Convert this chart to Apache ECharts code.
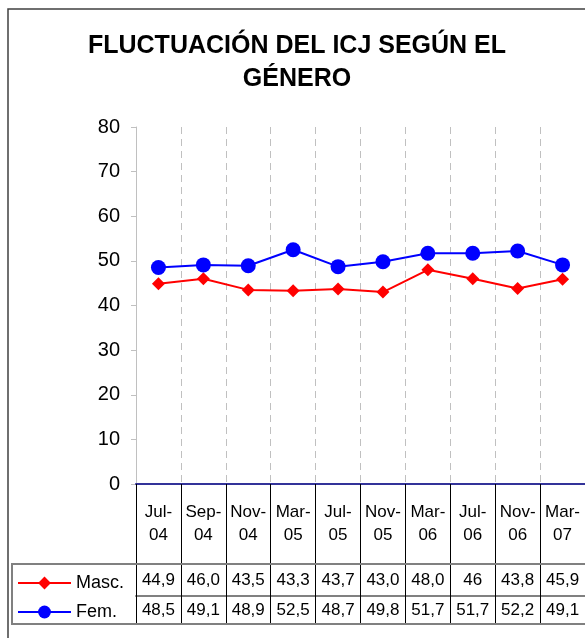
<!DOCTYPE html>
<html>
<head>
<meta charset="utf-8">
<script src="https://cdn.jsdelivr.net/npm/echarts@6/dist/echarts.min.js"></script>
<style>
html,body{margin:0;padding:0;background:#fff;}
#chart{width:585px;height:638px;}
</style>
</head>
<body>
<div id="chart"></div>
<script>
var categories = ["Jul-04","Sep-04","Nov-04","Mar-05","Jul-05","Nov-05","Mar-06","Jul-06","Nov-06","Mar-07"];
var masc = [44.9, 46.0, 43.5, 43.3, 43.7, 43.0, 48.0, 46, 43.8, 45.9];
var fem  = [48.5, 49.1, 48.9, 52.5, 48.7, 49.8, 51.7, 51.7, 52.2, 49.1];
var mascTable = ["44,9","46,0","43,5","43,3","43,7","43,0","48,0","46","43,8","45,9"];
var femTable  = ["48,5","49,1","48,9","52,5","48,7","49,8","51,7","51,7","52,2","49,1"];
var yTicks = [0, 10, 20, 30, 40, 50, 60, 70, 80];

var FONT = "'Liberation Sans', Arial, sans-serif";
var chart = echarts.init(document.getElementById('chart'), null, {renderer: 'canvas'});

function tableAxis(offset, tickLen, labels, margin) {
  return {
    type: 'category', data: categories, position: 'bottom', offset: offset,
    boundaryGap: true,
    axisLine: {show: true, lineStyle: {color: '#808080', width: 2}},
    axisTick: {show: true, interval: 0, length: tickLen, lineStyle: {color: '#000', width: 1}},
    axisLabel: {interval: 0, margin: margin, fontSize: 17, fontFamily: FONT, color: '#000',
      formatter: function (v, i) { return labels[i]; }},
    splitLine: {show: false}
  };
}

chart.setOption({
  animation: false,
  backgroundColor: '#fff',
  title: {
    text: 'FLUCTUACIÓN DEL ICJ SEGÚN EL\nGÉNERO',
    left: 292, top: 25, textAlign: 'center',
    textStyle: {fontSize: 25, fontWeight: 'bold', fontFamily: FONT, color: '#000', lineHeight: 33}
  },
  legend: {
    data: ['Masc.', 'Fem.'],
    orient: 'vertical', left: 12, top: 569,
    itemWidth: 53, itemHeight: 16, itemGap: 11,
    textStyle: {fontSize: 18, lineHeight: 16, fontFamily: FONT, color: '#000'}
  },
  grid: {left: 136, right: -2, top: 127, bottom: 154, containLabel: false},
  xAxis: [
    {
      type: 'category', data: categories, position: 'bottom', boundaryGap: true,
      axisLine: {show: true, lineStyle: {color: '#333399', width: 2}},
      axisTick: {show: true, interval: 0, length: 80, lineStyle: {color: '#000', width: 1}},
      axisLabel: {interval: 0, margin: 17, fontSize: 17, lineHeight: 23, fontFamily: FONT, color: '#000',
        formatter: function (v) { return v.replace('-', '-\n'); }},
      splitLine: {show: true, interval: 0, lineStyle: {color: '#c0c0c0', width: 1, type: [7, 5]}},
      z: 3
    },
    tableAxis(80, 32, mascTable, 8),
    tableAxis(112, 28, femTable, 6)
  ],
  yAxis: {
    type: 'value', min: 0, max: 80, interval: 10,
    axisLine: {show: true, lineStyle: {color: '#c0c0c0', width: 1}},
    axisTick: {show: true, length: 5, lineStyle: {color: '#c0c0c0'}},
    axisLabel: {fontSize: 20, fontFamily: FONT, color: '#000', margin: 16,
      formatter: function (v) { return yTicks.indexOf(v) >= 0 ? String(v) : ''; }},
    splitLine: {show: false}
  },
  graphic: [
    {type: 'rect', shape: {x: 8, y: 9, width: 700, height: 700},
     style: {fill: null, stroke: '#404040', lineWidth: 1.5}, silent: true, z: -1},
    {type: 'rect', shape: {x: 12, y: 564, width: 700, height: 60},
     style: {fill: null, stroke: '#808080', lineWidth: 2}, silent: true, z: 10}
  ],
  series: [
    {
      name: 'Masc.', type: 'line', data: masc, xAxisIndex: 0,
      symbol: 'diamond', symbolSize: 13, showSymbol: true,
      itemStyle: {color: '#ff0000'}, lineStyle: {color: '#ff0000', width: 2}, z: 4
    },
    {
      name: 'Fem.', type: 'line', data: fem, xAxisIndex: 0,
      symbol: 'circle', symbolSize: 15, showSymbol: true,
      itemStyle: {color: '#0000ff'}, lineStyle: {color: '#0000ff', width: 2}, z: 5
    }
  ]
});
</script>
</body>
</html>
